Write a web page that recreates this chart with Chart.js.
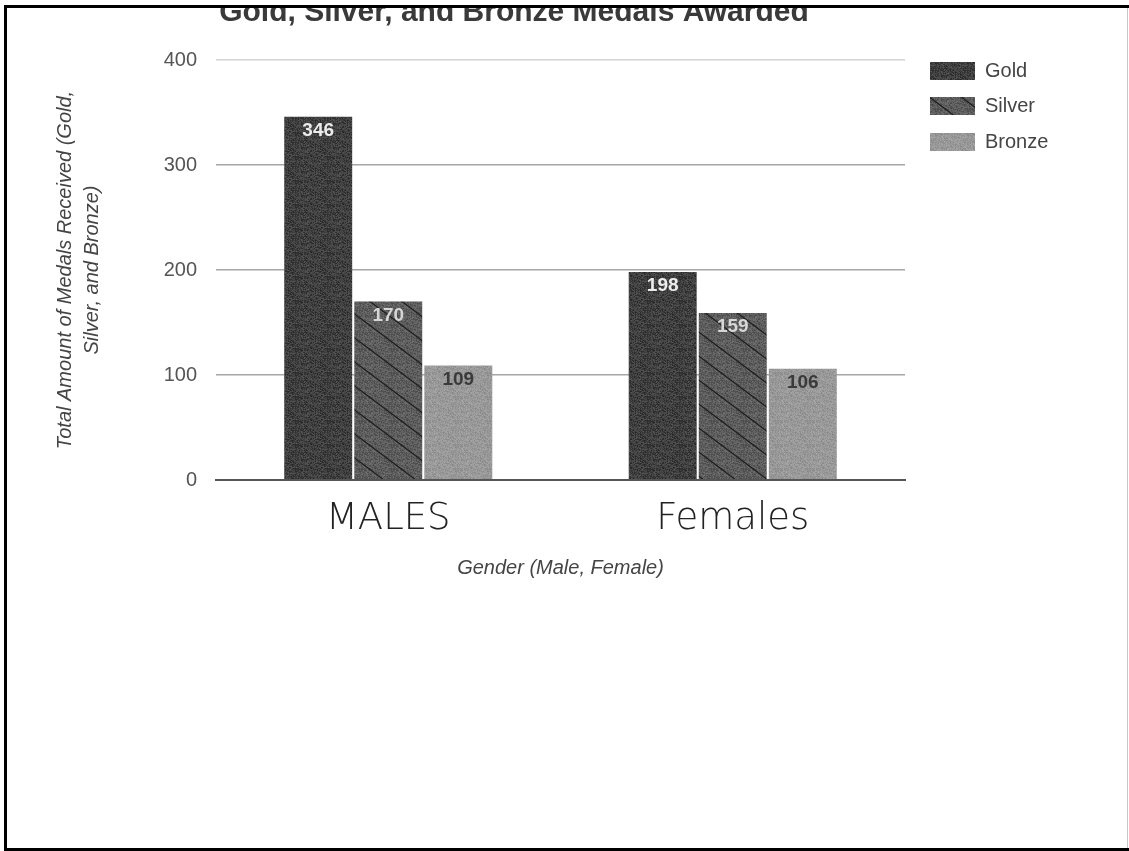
<!DOCTYPE html>
<html>
<head>
<meta charset="utf-8">
<title>Gold, Silver, and Bronze Medals Awarded</title>
<script src="https://cdn.jsdelivr.net/npm/chart.js@4.4.1/dist/chart.umd.min.js"></script>
<style>
  html, body { margin: 0; padding: 0; background: #fff; }
  #wrap { width: 1129px; height: 851px; position: relative; }
</style>
</head>
<body>
<div id="wrap"><canvas id="chart" width="1129" height="851"></canvas></div>
<script>
// ---- data ----
const chartTitle = 'Gold, Silver, and Bronze Medals Awarded';
const categories = ['MALES', 'Females'];
const seriesNames = ['Gold', 'Silver', 'Bronze'];
const goldValues = [346, 198];
const silverValues = [170, 159];
const bronzeValues = [109, 106];
const yTicks = [0, 100, 200, 300, 400];
const yAxisTitle = ['Total Amount of Medals Received (Gold,', 'Silver, and Bronze)'];
const xAxisTitle = 'Gender (Male, Female)';

// ---- textured fills (grainy print look) ----
function grain(x, y) {
  const s = Math.sin(x * 12.9898 + y * 78.233) * 43758.5453;
  return s - Math.floor(s);
}
function makeFill(base, amp, hatch) {
  const w = 32, h = 24;
  const c = document.createElement('canvas');
  c.width = w; c.height = h;
  const g = c.getContext('2d');
  const img = g.createImageData(w, h);
  for (let y = 0; y < h; y++) {
    for (let x = 0; x < w; x++) {
      const v = Math.max(0, Math.min(255, base + (grain(x, y) - 0.5) * amp));
      const i = (y * w + x) * 4;
      img.data[i] = img.data[i + 1] = img.data[i + 2] = v;
      img.data[i + 3] = 255;
    }
  }
  g.putImageData(img, 0, 0);
  if (hatch) {
    g.strokeStyle = '#1e1e1e';
    g.lineWidth = 1.4;
    for (let k = -1; k <= 1; k++) {
      g.beginPath();
      g.moveTo(-2, k * h - 2 * h / w);
      g.lineTo(w + 2, k * h + h + 2 * h / w);
      g.stroke();
    }
  }
  return g.createPattern(c, 'repeat');
}
const goldFill = makeFill(62, 46, false);
const silverFill = makeFill(92, 40, true);
const bronzeFill = makeFill(152, 30, false);

const labelColors = ['#ececec', '#d6d6d6', '#3a3a3a'];

// value labels inside the top of each bar
const valueLabels = {
  id: 'valueLabels',
  afterDatasetsDraw(chart) {
    const ctx = chart.ctx;
    ctx.save();
    ctx.font = 'bold 19px "Liberation Sans", Arial, sans-serif';
    ctx.textAlign = 'center';
    ctx.textBaseline = 'middle';
    chart.data.datasets.forEach((ds, di) => {
      const meta = chart.getDatasetMeta(di);
      meta.data.forEach((bar, i) => {
        ctx.fillStyle = labelColors[di];
        ctx.fillText(String(ds.data[i]), bar.x, bar.y + 14);
      });
    });
    ctx.restore();
  }
};

// legend at the right of the plot
const sideLegend = {
  id: 'sideLegend',
  afterDraw(chart) {
    const ctx = chart.ctx;
    const tops = [62, 97, 133];
    ctx.save();
    chart.data.datasets.forEach((ds, di) => {
      const top = tops[di];
      ctx.fillStyle = ds.backgroundColor;
      ctx.fillRect(930, top, 45, 18);
      ctx.fillStyle = '#444';
      ctx.font = '20px "Liberation Sans", Arial, sans-serif';
      ctx.textAlign = 'left';
      ctx.textBaseline = 'middle';
      ctx.fillText(ds.label, 985, top + 9);
    });
    ctx.restore();
  }
};

// page background, title and the sheet frame
const sheet = {
  id: 'sheet',
  beforeDraw(chart) {
    const ctx = chart.ctx;
    ctx.save();
    ctx.fillStyle = '#fff';
    ctx.fillRect(0, 0, chart.width, chart.height);
    ctx.restore();
  },
  afterDraw(chart) {
    const ctx = chart.ctx;
    ctx.save();
    ctx.fillStyle = '#3a3a3a';
    ctx.font = 'bold 30px "Liberation Sans", Arial, sans-serif';
    ctx.textAlign = 'center';
    ctx.textBaseline = 'alphabetic';
    ctx.fillText(chartTitle, 514, 21);
    // paper edge above the frame
    ctx.fillStyle = '#fff';
    ctx.fillRect(0, 0, chart.width, 5);
    // frame
    ctx.fillStyle = '#000';
    ctx.fillRect(4, 5, chart.width - 4, 3);
    ctx.fillRect(4, 5, 3, 846);
    ctx.fillRect(4, 848, chart.width - 4, 3);
    ctx.fillStyle = '#c8c8c8';
    ctx.fillRect(1127, 8, 1, 840);
    ctx.restore();
  }
};

new Chart(document.getElementById('chart'), {
  type: 'bar',
  data: {
    labels: categories,
    datasets: [
      { label: seriesNames[0], data: goldValues, backgroundColor: goldFill },
      { label: seriesNames[1], data: silverValues, backgroundColor: silverFill },
      { label: seriesNames[2], data: bronzeValues, backgroundColor: bronzeFill }
    ]
  },
  options: {
    responsive: false,
    animation: false,
    devicePixelRatio: 1,
    layout: { padding: { left: 40, top: 60, right: 224, bottom: 271 } },
    datasets: {
      bar: { categoryPercentage: 0.61, barPercentage: 0.97, borderWidth: 0 }
    },
    plugins: {
      legend: { display: false },
      title: { display: false },
      tooltip: { enabled: false }
    },
    scales: {
      x: {
        grid: { display: false },
        border: { display: true, color: '#555', width: 2 },
        ticks: {
          color: '#222',
          padding: 9,
          font: { family: '"DejaVu Sans", sans-serif', size: 37, weight: 200 }
        },
        title: {
          display: true,
          text: xAxisTitle,
          color: '#444',
          padding: { top: 0, bottom: 0 },
          font: { family: '"Liberation Sans", Arial, sans-serif', size: 20, style: 'italic' }
        },
        afterFit(scale) { scale.height = 100; }
      },
      y: {
        min: yTicks[0],
        max: yTicks[yTicks.length - 1],
        afterBuildTicks(scale) { scale.ticks = yTicks.map(v => ({ value: v })); },
        border: { display: false },
        grid: {
          drawTicks: false,
          color: ctx => ctx.tick.value === 0 ? '#555' : (ctx.tick.value === 400 ? '#d4d4d4' : '#a6a6a6'),
          lineWidth: ctx => ctx.tick.value === 0 ? 2 : 1.5
        },
        ticks: {
          color: '#555',
          padding: 19,
          font: { family: '"Liberation Sans", Arial, sans-serif', size: 20 }
        },
        title: {
          display: true,
          text: yAxisTitle,
          color: '#444',
          padding: { top: 12, bottom: 0 },
          font: { family: '"Liberation Sans", Arial, sans-serif', size: 20, style: 'italic', lineHeight: 1.35 }
        },
        afterFit(scale) { scale.width = 176; }
      }
    }
  },
  plugins: [sheet, valueLabels, sideLegend]
});
</script>
</body>
</html>
